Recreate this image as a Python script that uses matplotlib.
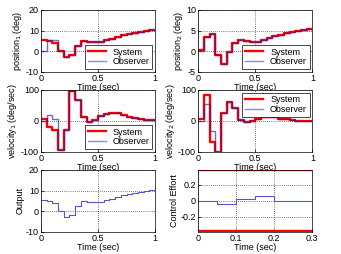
import matplotlib
matplotlib.use('Agg')
import matplotlib.pyplot as plt
import numpy as np

# sample times (zero-order hold, dt = 0.05)
t = np.arange(0, 1.0001, 0.05)

pos1_sys = [5.5, 5.1, 4.2, 0.3, -2.7, -1.6, 2.7, 4.8, 4.7, 4.5,
            4.5, 5.3, 6.0, 6.8, 7.7, 8.4, 8.9, 9.4, 9.7, 10.2]
pos1_obs = [0.0, 5.3, 5.3, 0.3, -2.7, -1.6, 2.7, 4.8, 4.7, 4.5,
            4.5, 5.3, 6.0, 6.8, 7.7, 8.4, 8.9, 9.4, 9.7, 10.2]

pos2_sys = [0.2, 3.4, 4.1, -1.0, -3.1, -0.2, 2.1, 2.7, 2.4, 2.3,
            2.3, 2.7, 3.2, 3.6, 4.0, 4.5, 4.7, 5.0, 5.2, 5.3]
pos2_obs = [0.0, 3.4, 4.1, -1.0, -3.1, -0.2, 2.1, 2.7, 2.4, 2.3,
            2.3, 2.7, 3.2, 3.6, 4.0, 4.5, 4.7, 5.0, 5.2, 5.3]

vel1_sys = [6, -21, -28, -95, -28, 97, 67, 13, -4, 2,
            15, 22, 26, 25, 20, 13, 9, 5, 3, 2]
vel1_obs = [0, 20, 7, -95, -28, 97, 67, 13, -4, 2,
            15, 22, 26, 25, 20, 13, 9, 5, 3, 2]

vel2_sys = [6, 83, -67, -99, 26, 62, 42, 3, -5, 1,
            7, 13, 13, 11, 7, 5, 3, 1, 0, 0]
vel2_obs = [0, 55, -33, -99, 26, 62, 42, 3, -5, 1,
            7, 13, 13, 11, 7, 5, 3, 1, 0, 0]

output = pos1_sys

tu = [0, 0.05, 0.1, 0.15, 0.2, 0.3]
u = [0.0, -0.035, 0.025, 0.064, -0.008, -0.008]
u_lim = 0.375

red = '#ff0000'
obs_col = '#3a1a90'
fs = 6.5

plt.rcParams['font.family'] = 'Liberation Sans'
plt.rcParams['font.size'] = fs

fig = plt.figure(figsize=(3.41, 2.54), dpi=100)

def hold(v):
    return np.append(v, v[-1])

def style(ax, yticks, ylim, ylabel, xticks=(0, 0.5, 1), xlim=(0, 1)):
    ax.set_xlim(xlim)
    ax.set_ylim(ylim)
    ax.set_xticks(xticks)
    ax.set_xticklabels([('%g' % x) for x in xticks])
    ax.set_yticks(yticks)
    ax.set_yticklabels([('%g' % y) for y in yticks])
    ax.grid(True, color='black', linestyle=(0, (1, 2)), linewidth=0.5)
    ax.tick_params(direction='in', length=2, width=0.5, labelsize=fs, pad=1.5)
    for s in ax.spines.values():
        s.set_linewidth(0.5)
    ax.set_xlabel('Time (sec)', fontsize=fs, labelpad=0)
    ax.set_ylabel(ylabel, fontsize=fs, labelpad=1)

def both(ax, sys_v, obs_v, loc):
    ax.step(t, hold(sys_v), where='post', color=red, lw=1.7, label='System')
    ax.step(t, hold(obs_v), where='post', color=obs_col, lw=1.0, alpha=0.65, label='Observer')
    leg = ax.legend(loc=loc, fontsize=fs, fancybox=False, framealpha=1,
                    edgecolor='black', borderpad=0.3, handlelength=2.0,
                    labelspacing=0.1, borderaxespad=0.3)
    leg.get_frame().set_linewidth(0.5)
    leg.get_lines()[1].set_color('#8888ee')
    leg.get_lines()[1].set_alpha(1)

L, R, W = 0.120, 0.581, 0.335
B = [0.717, 0.402, 0.087]
H = 0.244

ax1 = fig.add_axes([L, B[0], W, H])
both(ax1, pos1_sys, pos1_obs, 'lower right')
style(ax1, [-10, 0, 10, 20], (-10, 20), 'position$_1$ (deg)')

ax2 = fig.add_axes([R, B[0], W, H])
both(ax2, pos2_sys, pos2_obs, 'lower right')
style(ax2, [-5, 0, 5, 10], (-5, 10), 'position$_2$ (deg)')

ax3 = fig.add_axes([L, B[1], W, H])
both(ax3, vel1_sys, vel1_obs, 'lower right')
style(ax3, [-100, 0, 100], (-100, 100), 'velocity$_1$ (deg/sec)')

ax4 = fig.add_axes([R, B[1], W, H])
both(ax4, vel2_sys, vel2_obs, 'upper right')
style(ax4, [-100, 0, 100], (-100, 100), 'velocity$_2$ (deg/sec)')

ax5 = fig.add_axes([L, B[2], W, H])
ax5.step(t, hold(output), where='post', color='#5555cc', lw=0.8)
style(ax5, [-10, 0, 10, 20], (-10, 20), 'Output')

ax6 = fig.add_axes([R, B[2], W, H])
ax6.axhline(u_lim, color=red, lw=1.7)
ax6.axhline(-u_lim, color=red, lw=1.7)
ax6.step(tu, u, where='post', color='#5555cc', lw=0.8)
style(ax6, [-0.2, 0, 0.2], (-0.385, 0.38), 'Control Effort',
      xticks=(0, 0.1, 0.2, 0.3), xlim=(0, 0.3))

fig.savefig('out.png', dpi=100)
